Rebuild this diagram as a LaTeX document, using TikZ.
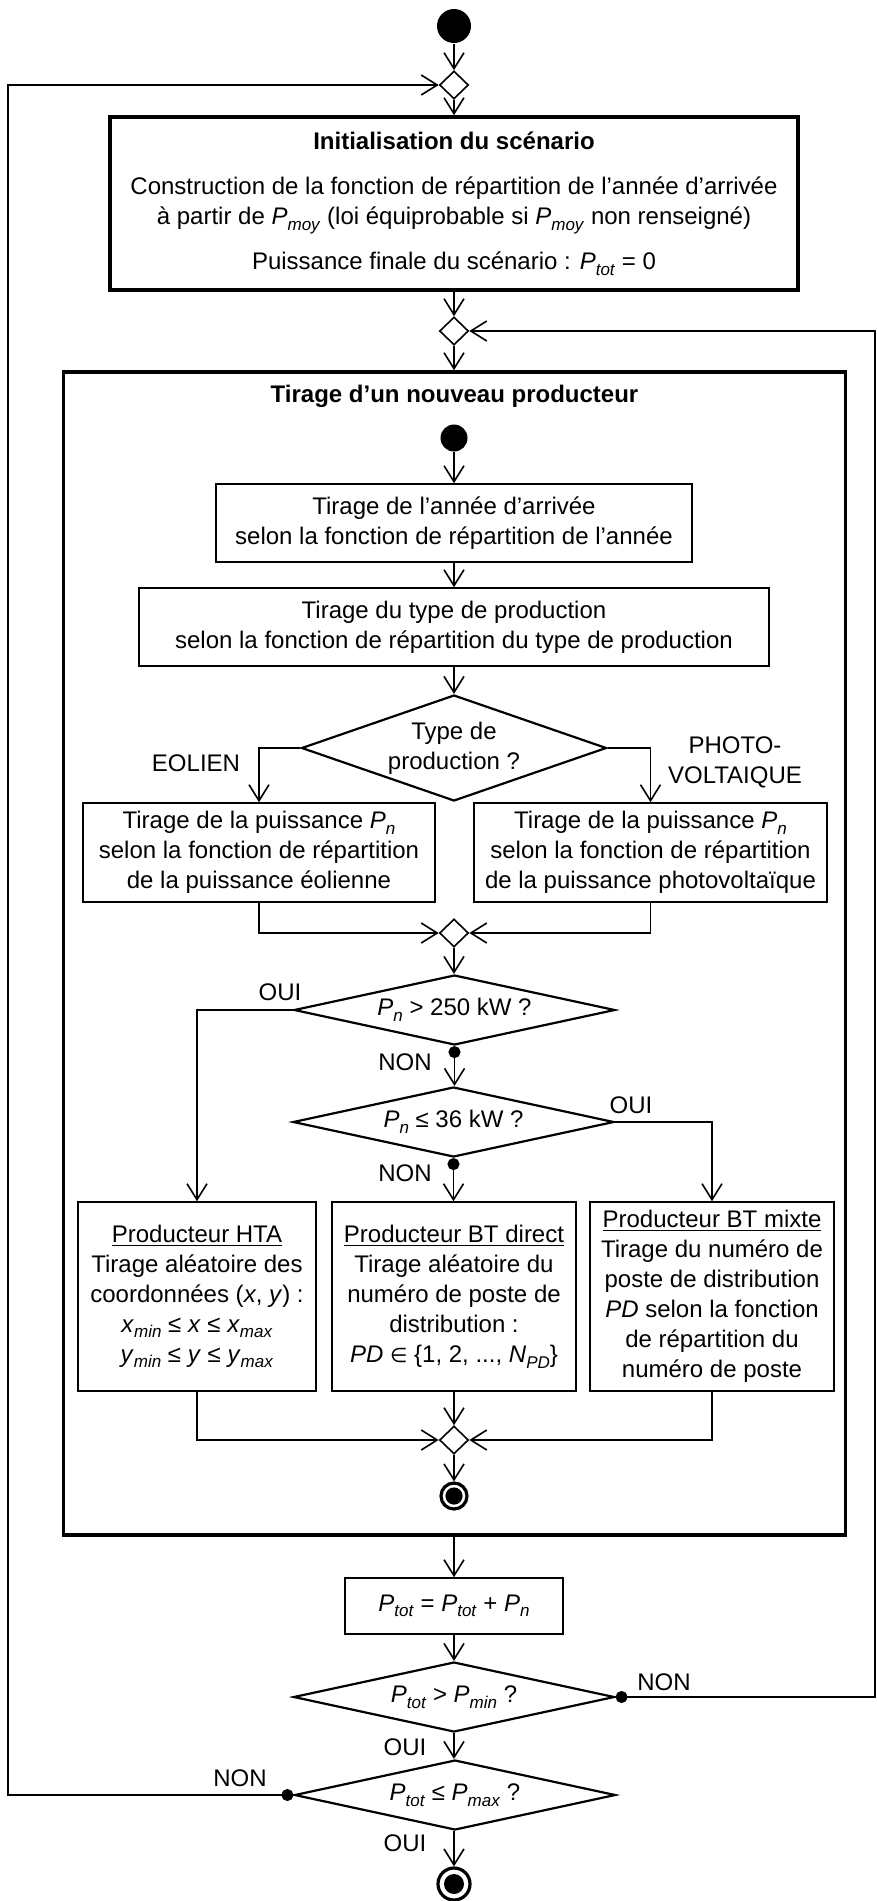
\documentclass[tikz,border=0pt]{standalone}
\usepackage{fontspec}
\setmainfont{Liberation Sans}
\newfontfamily\symfont{DejaVu Sans}
\usetikzlibrary{shapes.geometric,arrows.meta,positioning}

\newcommand{\sbs}[1]{\raisebox{-2.8pt}{\fontsize{8.5}{8.5}\selectfont\textit{#1}}}
\newcommand{\Pv}[1]{\textit{P}\sbs{#1}}
\newcommand{\iv}[2]{\textit{#1}\sbs{#2}}

\begin{document}
\begin{tikzpicture}[x=0.5pt,y=-0.5pt,
        font=\fontsize{12}{15}\selectfont,
        line width=0.8pt,
        arr/.style={-{Straight Barb[length=8pt,width=10pt]}},
        darr/.style={{Circle[length=6pt]}-{Straight Barb[length=8pt,width=10pt]}},
        block/.style={draw,rectangle,align=center,inner sep=0pt},
        bigblock/.style={block,line width=1.8pt},
        merge/.style={draw,diamond,inner sep=0pt,minimum width=14.5pt,minimum height=14pt},
        test/.style={draw,diamond,align=center,inner sep=0pt,line width=1.1pt,
            minimum width=160.5pt,minimum height=35pt,aspect=4.6},
        startnode/.style={circle,fill,inner sep=0pt},
        endnode/.style={circle,draw,line width=1.6pt,inner sep=0pt},
        lbl/.style={inner sep=0pt}]

        \useasboundingbox (0,0) rectangle (877,1901);

        % boucle principale
        \node[startnode,minimum size=17pt] (s0) at (454,26) {};
        \node[merge] (m1) at (454,85) {};
        \node[bigblock,minimum width=344pt,minimum height=86.5pt] (init) at (454,203.5)
            {{\bfseries Initialisation du scénario}\\[7.5pt]
             Construction de la fonction de répartition de l’année d’arrivée\\
             à partir de \Pv{moy} (loi équiprobable si \Pv{moy} non renseigné)\\[7.5pt]
             Puissance finale du scénario : \Pv{tot} = 0};
        \node[merge] (m2) at (454,331) {};
        \node[bigblock,minimum width=391pt,minimum height=581.5pt] (tir) at (454.5,953.5) {};
        \node[lbl,font=\fontsize{12}{15}\selectfont\bfseries] (tit) at (454.5,396) {Tirage d’un nouveau producteur};

        % tirage d'un producteur
        \node[startnode,minimum size=13.5pt] (s1) at (454,438) {};
        \node[block,minimum width=238pt,minimum height=39pt] (b1) at (454,523)
            {Tirage de l’année d’arrivée\\selon la fonction de répartition de l’année};
        \node[block,minimum width=315pt,minimum height=39pt] (b2) at (454,627)
            {Tirage du type de production\\selon la fonction de répartition du type de production};
        \node[test,minimum width=152.5pt,minimum height=53pt,aspect=2.88] (d1) at (454,748)
            {Type de\\production ?};
        \node[block,minimum width=176pt,minimum height=49.5pt] (eol) at (259,852.5)
            {Tirage de la puissance \Pv{n}\\selon la fonction de répartition\\de la puissance éolienne};
        \node[block,minimum width=176.5pt,minimum height=49.5pt] (pv) at (650.5,852.5)
            {Tirage de la puissance \Pv{n}\\selon la fonction de répartition\\de la puissance photovoltaïque};
        \node[merge] (m3) at (454,933) {};
        \node[test] (d2) at (454.5,1010) {\Pv{n} > 250 kW ?};
        \node[test] (d3) at (453.5,1122) {\Pv{n} ≤ 36 kW ?};
        \node[block,minimum width=119pt,minimum height=94.5pt] (hta) at (197,1296.5)
            {\underline{Producteur HTA}\\Tirage aléatoire des\\coordonnées (\textit{x}, \textit{y}) :\\
             \iv{x}{min} ≤ \textit{x} ≤ \iv{x}{max}\\\iv{y}{min} ≤ \textit{y} ≤ \iv{y}{max}};
        \node[block,minimum width=122pt,minimum height=94.5pt] (btd) at (454,1296.5)
            {\underline{Producteur BT direct}\\Tirage aléatoire du\\numéro de poste de\\distribution :\\
             \textit{PD} {\symfont\fontsize{10}{15}\selectfont ∈} \{1, 2, ..., \iv{N}{PD}\}};
        \node[block,minimum width=122pt,minimum height=94.5pt] (btm) at (712,1296.5)
            {\underline{Producteur BT mixte}\\Tirage du numéro de\\poste de distribution\\
             \textit{PD} selon la fonction\\de répartition du\\numéro de poste};
        \node[merge] (m4) at (454,1440) {};
        \node[endnode,minimum size=13pt,path picture={\fill (path picture bounding box.center) circle (4.3pt);}]
            (e1) at (454,1496) {};

        % fin du scenario
        \node[block,minimum width=109pt,minimum height=28pt] (ptot) at (454,1606)
            {\Pv{tot} = \Pv{tot} + \Pv{n}};
        \node[test] (d4) at (454,1697) {\Pv{tot} > \Pv{min} ?};
        \node[test] (d5) at (455,1795) {\Pv{tot} ≤ \Pv{max} ?};
        \node[endnode,minimum size=16pt,path picture={\fill (path picture bounding box.center) circle (5pt);}]
            (e0) at (454,1884) {};

        \coordinate (lft) at (8,0);
        \coordinate (rgt) at (875,0);

        % labels
        \node[lbl] (l1) at (196,763) {EOLIEN};
        \node[lbl,align=center] (l2) at (735,762) {PHOTO-\\VOLTAIQUE};
        \node[lbl] (l3) at (280,992) {OUI};
        \node[lbl] (l4) at (405,1062) {NON};
        \node[lbl] (l5) at (631,1105) {OUI};
        \node[lbl] (l6) at (405,1173) {NON};
        \node[lbl] (l7) at (664,1682) {NON};
        \node[lbl] (l8) at (405,1747) {OUI};
        \node[lbl] (l9) at (240,1778) {NON};
        \node[lbl] (l10) at (405,1843) {OUI};

        % connecteurs
        \draw[arr] (s0) -- (m1.north);
        \draw[arr] (m1) -- (init.north);
        \draw[arr] (init) -- (m2.north);
        \draw[arr] (m2) -- (m2 |- tir.north);
        \draw[arr] (s1) -- (b1.north);
        \draw[arr] (b1) -- (b2.north);
        \draw[arr] (b2) -- (d1.north);
        \draw[arr] (d1.west) -| (eol.north);
        \draw[arr] (d1.east) -| (pv.north);
        \draw[arr] (eol.south) |- (m3.west);
        \draw[arr] (pv.south) |- (m3.east);
        \draw[arr] (m3) -- (m3 |- d2.north);
        \draw[arr] (d2.west) -| (hta.north);
        \draw[darr] (d2.south) -- (d2.south |- d3.north);
        \draw[arr] (d3.east) -| (btm.north);
        \draw[darr] (d3.south) -- (d3.south |- btd.north);
        \draw[arr] (hta.south) |- (m4.west);
        \draw[arr] (btm.south) |- (m4.east);
        \draw[arr] (btd.south) -- (m4.north);
        \draw[arr] (m4) -- (e1.north);
        \draw[arr] (tir.south -| ptot) -- (ptot.north);
        \draw[arr] (ptot) -- (ptot |- d4.north);
        \draw[arr] (d4.south) -- (d4.south |- d5.north);
        \draw[arr] (d5.south -| e0) -- (e0.north);
        \draw[darr] (d4.east) -| (rgt |- m2) -- (m2.east);
        \draw[darr] (d5.west) -| (lft |- m1) -- (m1.west);
\end{tikzpicture}
\end{document}
